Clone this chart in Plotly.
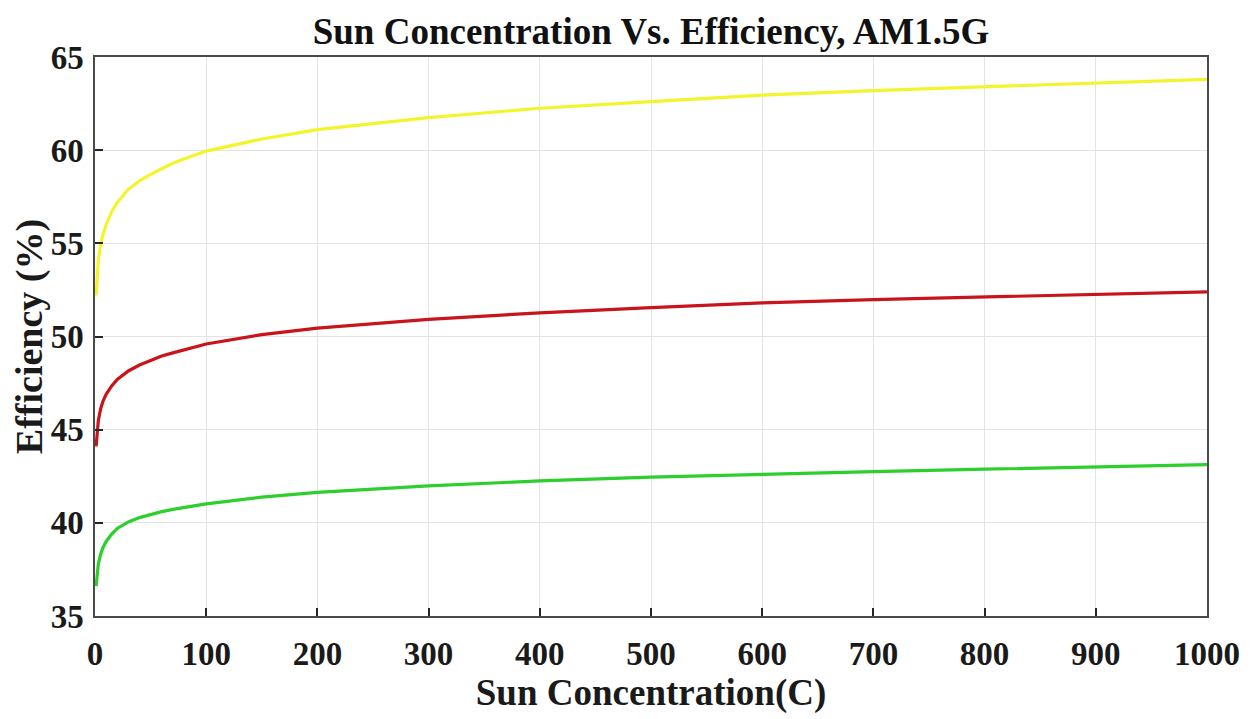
import plotly.graph_objects as go

# Sun concentration (C) sample points
conc = [1, 2, 3, 5, 7, 10, 15, 20, 30, 40, 50, 60, 70, 80, 100, 150, 200, 300, 400, 500, 600, 700, 800, 900, 1000]

# Efficiency (%) per curve
eff_yellow = [52.2, 53.4, 54.1, 54.9, 55.45, 56.0, 56.7, 57.2, 57.9, 58.35, 58.7, 59.0, 59.3, 59.52, 59.95, 60.6,
              61.1, 61.75, 62.25, 62.6, 62.95, 63.2, 63.4, 63.6, 63.8]
eff_red = [44.1, 45.0, 45.5, 46.1, 46.5, 46.9, 47.35, 47.7, 48.15, 48.47, 48.72, 48.95, 49.12, 49.28, 49.6, 50.1,
           50.45, 50.92, 51.27, 51.55, 51.8, 51.98, 52.13, 52.27, 52.4]
eff_green = [36.6, 37.4, 37.8, 38.3, 38.65, 39.0, 39.4, 39.7, 40.05, 40.28, 40.45, 40.6, 40.72, 40.83, 41.02, 41.38,
             41.63, 41.98, 42.25, 42.45, 42.62, 42.75, 42.88, 43.0, 43.12]

x_ticks = [0, 100, 200, 300, 400, 500, 600, 700, 800, 900, 1000]
y_ticks = [35, 40, 45, 50, 55, 60, 65]

series = [
    (eff_yellow, "#f4f42c"),
    (eff_red, "#c9141c"),
    (eff_green, "#2ccf2c"),
]

font_family = "Liberation Serif, Times New Roman, serif"

fig = go.Figure()
for vals, col in series:
    fig.add_trace(go.Scatter(
        x=conc, y=vals, mode="lines",
        line=dict(color=col, width=3.2),
        showlegend=False, hoverinfo="skip",
    ))

axis_common = dict(
    showline=True, linecolor="#4a4a4a", linewidth=1.5, mirror=True,
    ticks="inside", ticklen=8, tickcolor="#262626", tickwidth=1.5,
    showgrid=True, gridcolor="#e3e3e3", gridwidth=1,
    zeroline=False,
    tickfont=dict(family=font_family, size=33, color="#1a1a1a"),
)

fig.update_layout(
    width=1250, height=719,
    paper_bgcolor="white", plot_bgcolor="white",
    margin=dict(l=87, r=51, t=49, b=111),
    title=dict(
        text="<b>Sun Concentration Vs. Efficiency, AM1.5G</b>",
        xref="paper", x=0.5, xanchor="center", y=0.968, yanchor="middle",
        font=dict(family=font_family, size=37, color="#111111"),
    ),
    xaxis=dict(
        range=[0, 1000], tickvals=x_ticks, ticktext=[f"<b>{v}</b>" for v in x_ticks],
        ticklabelstandoff=8,
        title=dict(text="<b>Sun Concentration(C)</b>", standoff=4,
                   font=dict(family=font_family, size=37, color="#1a1a1a")),
        **axis_common,
    ),
    yaxis=dict(
        range=[35, 65], tickvals=y_ticks, ticktext=[f"<b>{v}</b>" for v in y_ticks],
        ticklabelstandoff=3,
        title=dict(text="<b>Efficiency (%)</b>", standoff=2,
                   font=dict(family=font_family, size=38, color="#1a1a1a")),
        **axis_common,
    ),
)

fig.write_html("out.html")
